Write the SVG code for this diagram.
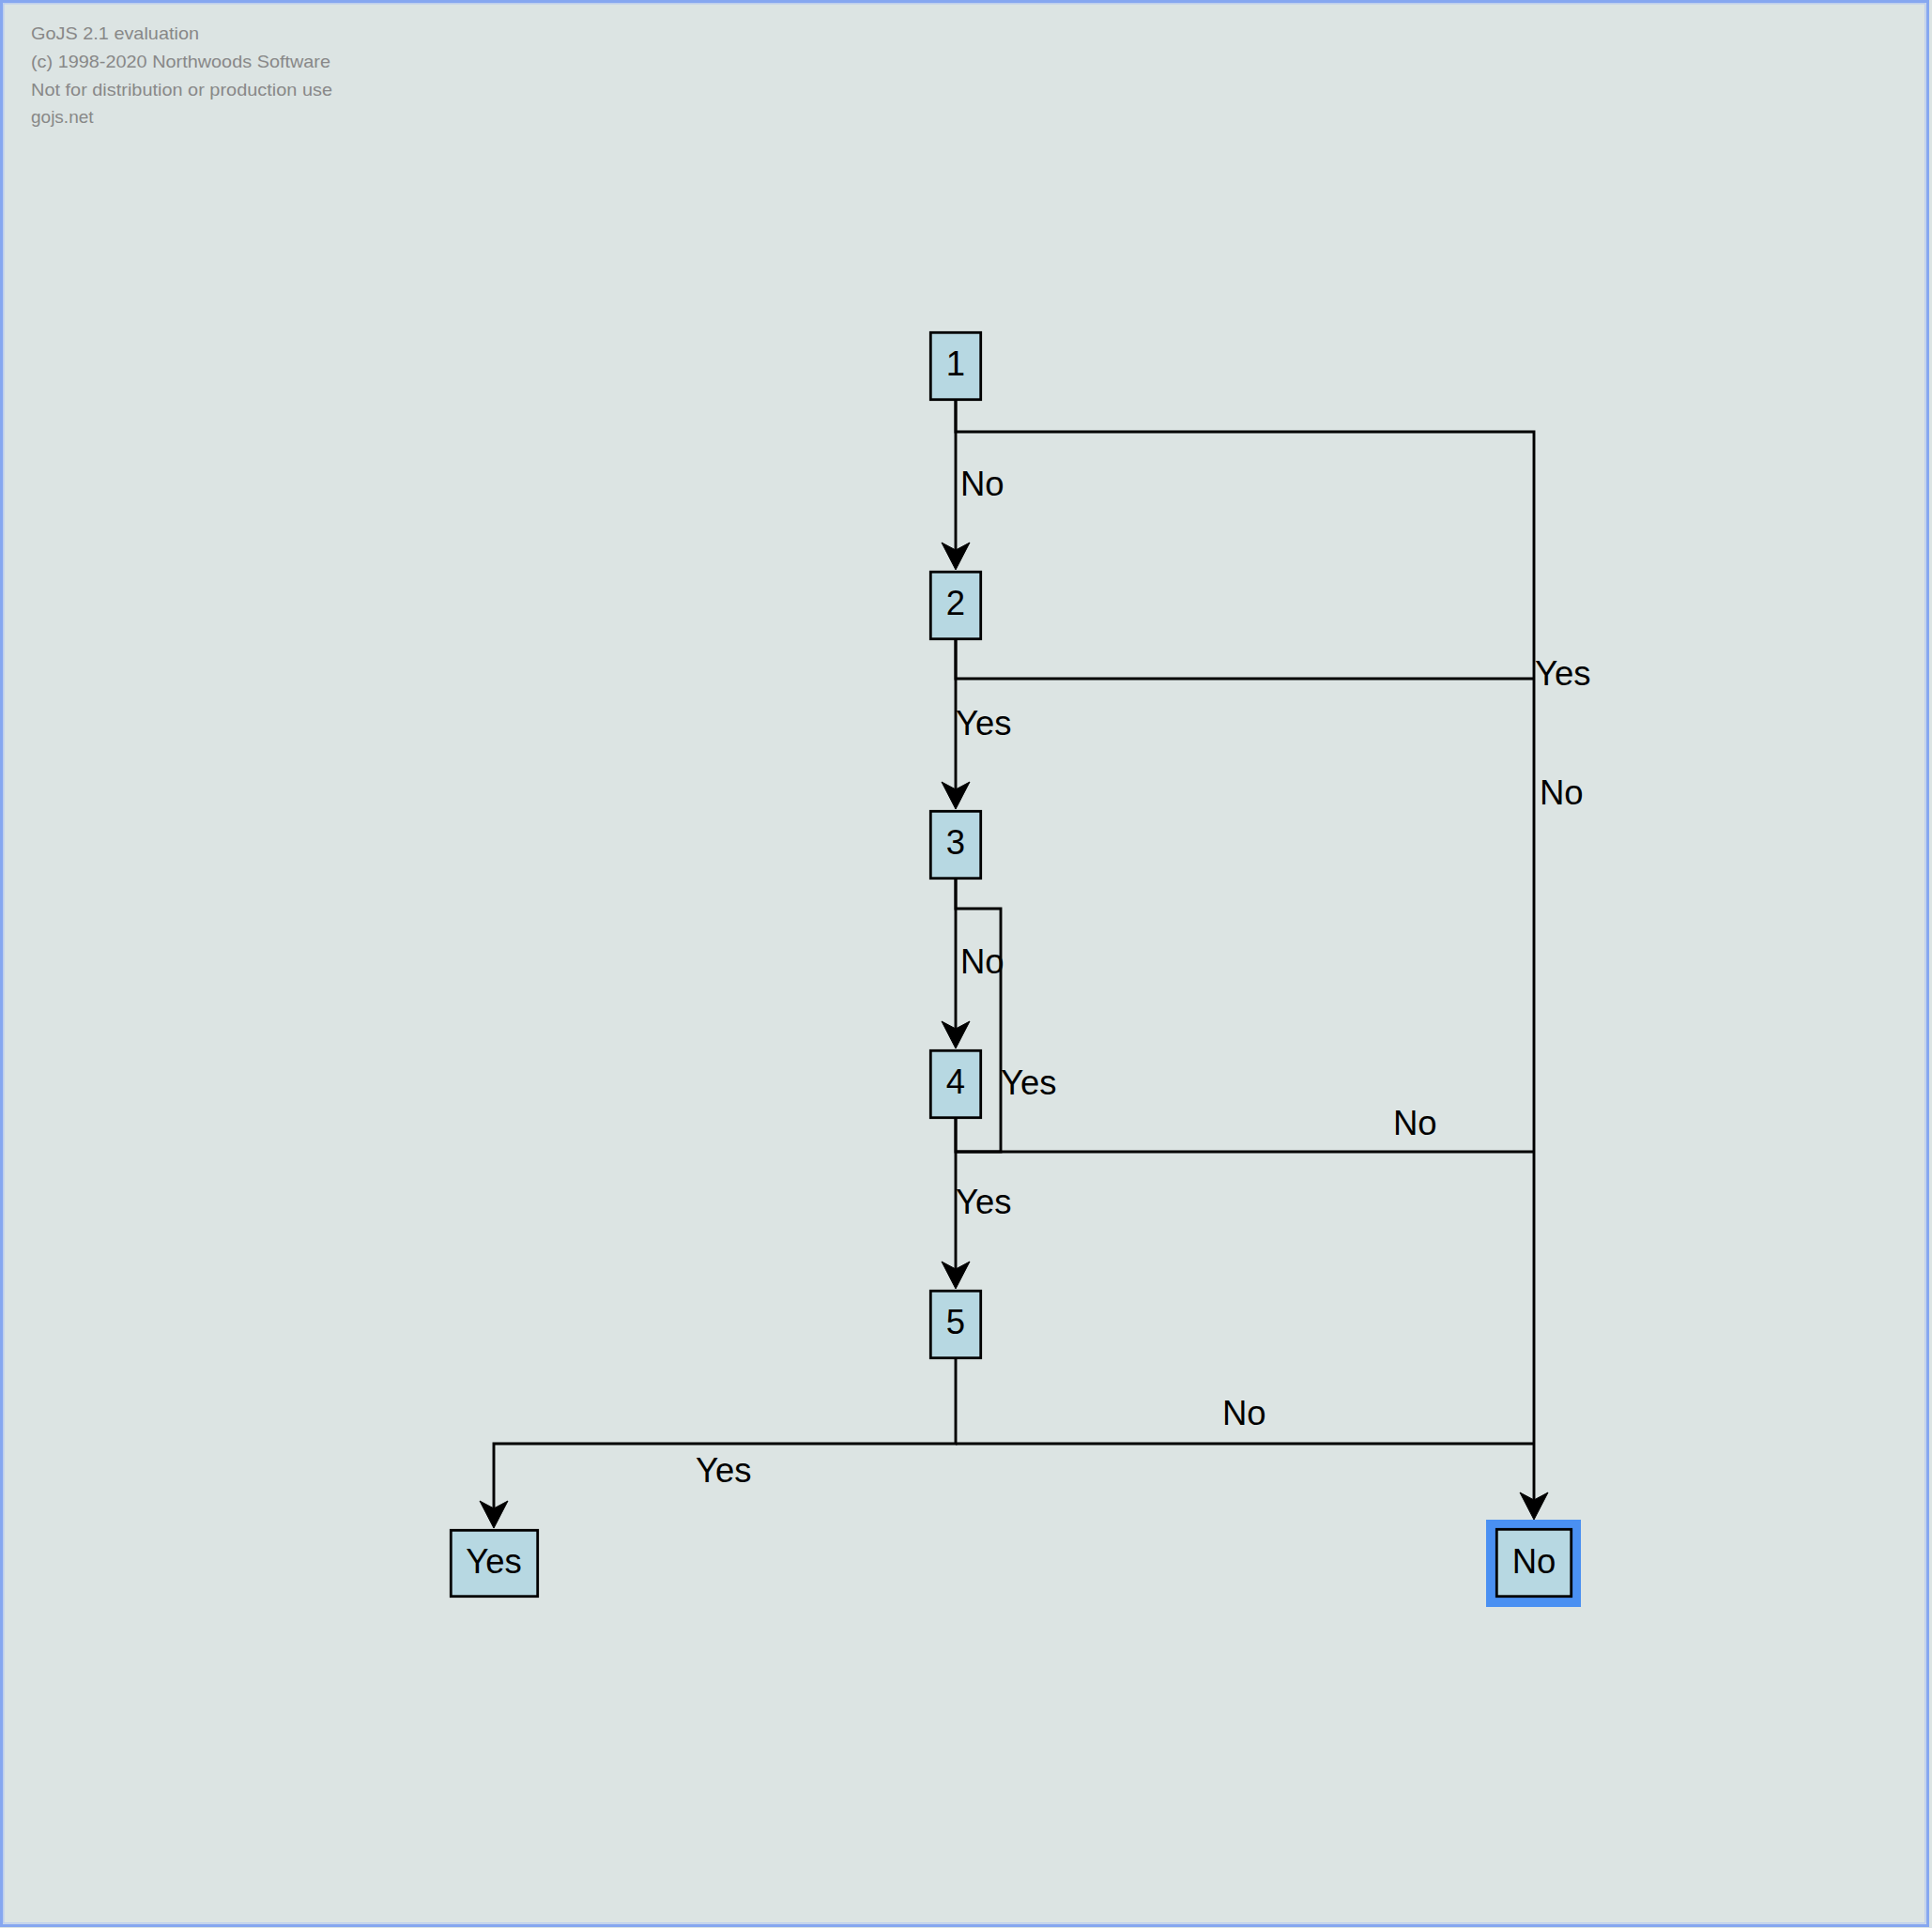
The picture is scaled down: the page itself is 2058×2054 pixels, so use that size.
<svg xmlns="http://www.w3.org/2000/svg" width="2058" height="2054" viewBox="0 0 2058 2054">
  <defs>
    <style>
      .node rect.box { fill: #b7d8e2; stroke: #000; stroke-width: 2.8; }
      .node text, .lbl { font-family: "Liberation Sans", Arial, sans-serif; font-size: 36.5px; fill: #000; }
      .node text { text-anchor: middle; }
      .link { fill: none; stroke: #000; stroke-width: 2.9; }
      .arrowhead { fill: #000; stroke: #000; stroke-width: 1; stroke-linejoin: miter; }
      .wm { font-family: "Liberation Sans", Arial, sans-serif; font-size: 19px; fill: #888; }
    </style>
  </defs>

  <rect x="0" y="0" width="2058" height="2054" fill="#dce4e3"/>
  <rect x="1.5" y="1.5" width="2052" height="2050" fill="none" stroke="#86a7f0" stroke-width="3"/>
  <rect x="3.8" y="3.8" width="2047" height="2045" fill="none" stroke="#bccdee" stroke-width="1.5"/>

  <g id="watermark">
    <text class="wm" x="33" y="42" textLength="179" lengthAdjust="spacingAndGlyphs">GoJS 2.1 evaluation</text>
    <text class="wm" x="33" y="72" textLength="319" lengthAdjust="spacingAndGlyphs">(c) 1998-2020 Northwoods Software</text>
    <text class="wm" x="33" y="102" textLength="321" lengthAdjust="spacingAndGlyphs">Not for distribution or production use</text>
    <text class="wm" x="33" y="131">gojs.net</text>
  </g>

  <g id="connectors">
    <path class="link" d="M1018,427 L1018,590"/>
    <path class="link" d="M1018,427 L1018,460 L1634,460 L1634,1601"/>
    <path class="link" d="M1018,681 L1018,845"/>
    <path class="link" d="M1018,681 L1018,723 L1634,723"/>
    <path class="link" d="M1018,937 L1018,1100"/>
    <path class="link" d="M1018,937 L1018,968 L1066,968 L1066,1227 L1018,1227"/>
    <path class="link" d="M1018,1192 L1018,1227 L1634,1227"/>
    <path class="link" d="M1018,1192 L1018,1356"/>
    <path class="link" d="M1018,1447 L1018,1538 L526,1538 L526,1611"/>
    <path class="link" d="M1018,1538 L1634,1538"/>

    <path class="arrowhead" d="M1018,607 L1003,578 L1018,586 L1033,578 Z"/>
    <path class="arrowhead" d="M1018,862 L1003,833 L1018,841 L1033,833 Z"/>
    <path class="arrowhead" d="M1018,1117 L1003,1088 L1018,1096 L1033,1088 Z"/>
    <path class="arrowhead" d="M1018,1373 L1003,1344 L1018,1352 L1033,1344 Z"/>
    <path class="arrowhead" d="M526,1628 L511,1599 L526,1607 L541,1599 Z"/>
    <path class="arrowhead" d="M1634,1619 L1619,1590 L1634,1598 L1649,1590 Z"/>

    <text class="lbl" x="1023" y="528">No</text>
    <text class="lbl" x="1635" y="730">Yes</text>
    <text class="lbl" x="1018" y="783">Yes</text>
    <text class="lbl" x="1640" y="857">No</text>
    <text class="lbl" x="1023" y="1037">No</text>
    <text class="lbl" x="1066" y="1166">Yes</text>
    <text class="lbl" x="1484" y="1209">No</text>
    <text class="lbl" x="1018" y="1293">Yes</text>
    <text class="lbl" x="1302" y="1518">No</text>
    <text class="lbl" x="741" y="1579">Yes</text>
  </g>

  <g id="node-1" class="node">
    <rect class="box" x="991.3" y="354.3" width="53.4" height="71.4"/>
    <text x="1018" y="400">1</text>
  </g>
  <g id="node-2" class="node">
    <rect class="box" x="991.3" y="609.3" width="53.4" height="71.4"/>
    <text x="1018" y="655">2</text>
  </g>
  <g id="node-3" class="node">
    <rect class="box" x="991.3" y="864.3" width="53.4" height="71.4"/>
    <text x="1018" y="910">3</text>
  </g>
  <g id="node-4" class="node">
    <rect class="box" x="991.3" y="1119.3" width="53.4" height="71.4"/>
    <text x="1018" y="1165">4</text>
  </g>
  <g id="node-5" class="node">
    <rect class="box" x="991.3" y="1375.3" width="53.4" height="71.4"/>
    <text x="1018" y="1421">5</text>
  </g>
  <g id="node-yes" class="node">
    <rect class="box" x="480.3" y="1630.3" width="92.4" height="70.4"/>
    <text x="526" y="1676">Yes</text>
  </g>
  <g id="node-no" class="node">
    <rect x="1588" y="1624" width="91" height="83" fill="none" stroke="#4a90f2" stroke-width="10"/>
    <rect class="box" x="1594.3" y="1629.3" width="79.4" height="71.4"/>
    <text x="1634" y="1676">No</text>
  </g>
</svg>
